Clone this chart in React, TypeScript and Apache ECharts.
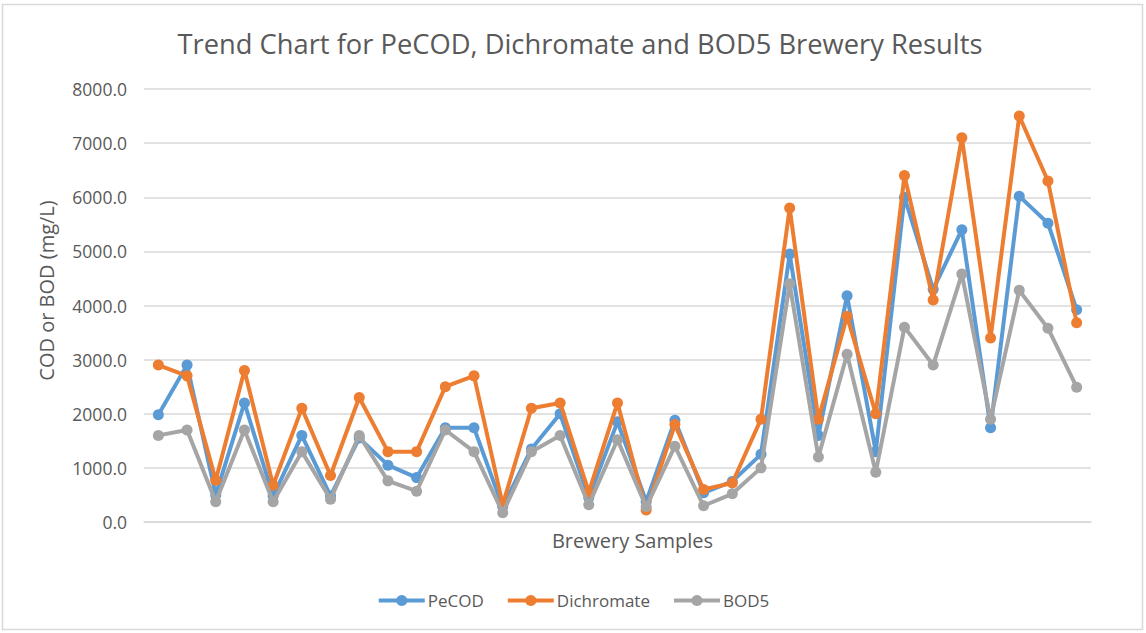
import React, { useEffect, useRef } from "react";
import * as echarts from "echarts";

const categories = Array.from({ length: 33 }, (_, i) => `Sample ${i + 1}`);

const pecod = [1980, 2900, 500, 2200, 480, 1600, 480, 1550, 1050, 820, 1740, 1740, 280, 1350, 2000, 450, 1850, 380, 1880, 540, 750, 1250, 4950, 1600, 4180, 1300, 6000, 4300, 5400, 1740, 6020, 5520, 3920];
const dichromate = [2900, 2700, 770, 2800, 680, 2100, 860, 2300, 1300, 1300, 2500, 2700, 320, 2100, 2200, 550, 2200, 220, 1800, 600, 720, 1900, 5800, 1900, 3800, 2000, 6400, 4100, 7100, 3400, 7500, 6300, 3680];
const bod5 = [1600, 1700, 375, 1700, 375, 1300, 420, 1600, 760, 570, 1700, 1300, 170, 1300, 1600, 320, 1520, 280, 1400, 300, 520, 1000, 4400, 1200, 3100, 920, 3600, 2900, 4580, 1900, 4280, 3580, 2490];

const seriesNames = ["PeCOD", "Dichromate", "BOD5"];
const colors = ["#5B9BD5", "#ED7D31", "#A5A5A5"];
const font = "'Open Sans', 'Liberation Sans', sans-serif";

export default function App() {
  const ref = useRef<HTMLDivElement>(null);
  useEffect(() => {
    if (!ref.current) return;
    const chart = echarts.init(ref.current, null, { renderer: "svg" });
    const datasets = [pecod, dichromate, bod5];
    chart.setOption({
      animation: false,
      backgroundColor: "#ffffff",
      color: colors,
      textStyle: { fontFamily: font },
      title: {
        text: "Trend Chart for PeCOD, Dichromate and BOD5 Brewery Results",
        left: 575,
        textAlign: "center",
        top: 25,
        textStyle: { fontFamily: font, fontSize: 27.3, fontWeight: "normal", color: "#595959" },
      },
      graphic: [
        {
          type: "rect",
          shape: { x: 2.5, y: 4.5, width: 1140, height: 625 },
          style: { fill: "none", stroke: "#D9D9D9", lineWidth: 1.5 },
          silent: true,
        },
      ],
      legend: {
        bottom: 19,
        left: "center",
        itemWidth: 46,
        itemHeight: 14,
        itemGap: 22,
        data: seriesNames,
        lineStyle: { width: 4 },
        textStyle: { fontFamily: font, fontSize: 17, color: "#595959", padding: [0, 0, 0, -2] },
      },
      grid: { left: 144, right: 55, top: 89, bottom: 111 },
      xAxis: {
        type: "category",
        data: categories,
        boundaryGap: true,
        name: "Brewery Samples",
        nameLocation: "middle",
        nameGap: 8,
        nameTextStyle: { fontFamily: font, fontSize: 20, color: "#595959", padding: [0, 0, 0, 30] },
        axisLine: { lineStyle: { color: "#D9D9D9", width: 1.5 } },
        axisTick: { show: false },
        axisLabel: { show: false },
      },
      yAxis: {
        type: "value",
        min: 0,
        max: 8000,
        interval: 1000,
        name: "COD or BOD (mg/L)",
        nameLocation: "middle",
        nameGap: 88,
        nameTextStyle: { fontFamily: font, fontSize: 20, color: "#595959", padding: [0, 0, 0, 30] },
        axisLine: { show: false },
        axisTick: { show: false },
        axisLabel: {
          fontFamily: font,
          fontSize: 17.5,
          color: "#595959",
          margin: 17,
          formatter: (v: number) => v.toFixed(1),
        },
        splitLine: { lineStyle: { color: "#D9D9D9", width: 1.5 } },
      },
      series: seriesNames.map((name, i) => ({
        name,
        type: "line",
        data: datasets[i],
        symbol: "circle",
        symbolSize: 11,
        lineStyle: { width: 4, color: colors[i] },
        itemStyle: { color: colors[i] },
        z: 2 + i,
      })),
    });
    return () => chart.dispose();
  }, []);
  return (
    <div
      ref={ref}
      style={{ position: "fixed", left: 0, top: 0, width: 1146, height: 633 }}
    />
  );
}
